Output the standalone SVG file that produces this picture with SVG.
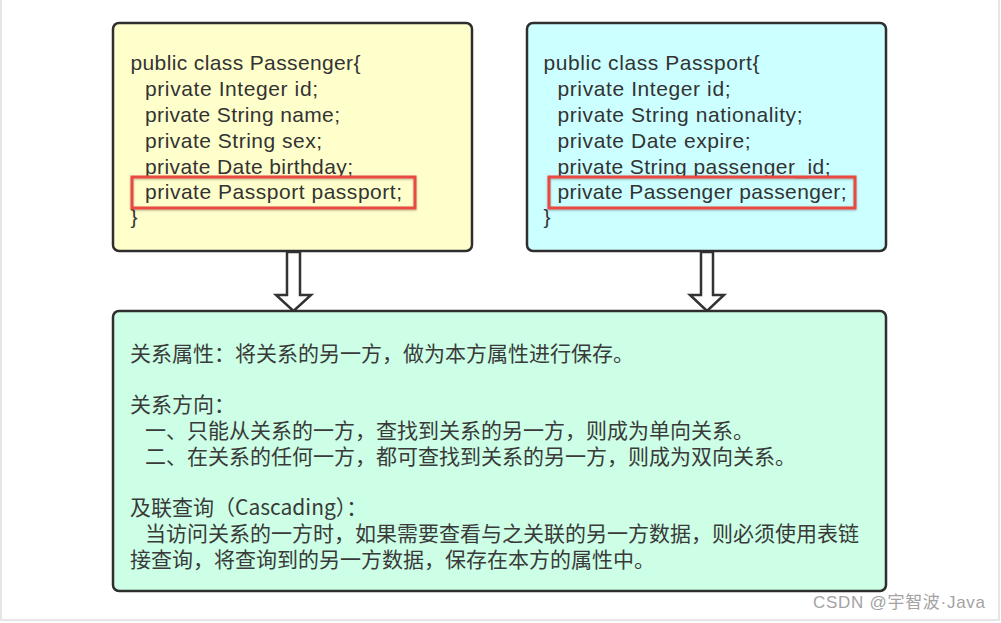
<svg xmlns="http://www.w3.org/2000/svg" width="1001" height="623" viewBox="0 0 1001 623">
<defs>
<style>
.box{stroke:#2e2e2e;stroke-width:2.5}
.code{font-family:"Liberation Sans",Arial,sans-serif;font-size:21px;fill:#333}
.cn{font-family:"Noto Sans CJK SC",sans-serif;font-size:21px;fill:#3a3a3a}
.hl{fill:none;stroke:#e8493f;stroke-width:3}
.arrow{fill:#fff;stroke:#333;stroke-width:2.5;stroke-linejoin:miter}
.wm{font-family:"Liberation Sans","Noto Sans CJK SC",sans-serif;font-size:17px;fill:#a3a3a3}
</style>
<filter id="sh" x="-5%" y="-30%" width="110%" height="160%">
<feDropShadow dx="0" dy="1" stdDeviation="1" flood-color="#000" flood-opacity="0.3"/>
</filter>
</defs>
<rect x="0" y="0" width="1001" height="623" fill="#fff"/>
<rect x="1" y="-2" width="998" height="622" fill="none" stroke="#dedede" stroke-width="1.5"/>

<g id="connectors">
<polygon class="arrow" points="287,252 287,295 276,295 293.5,311 311,295 300,295 300,252"/>
<polygon class="arrow" points="701,252 701,295 690,295 707,311 724,295 713,295 713,252"/>
</g>

<g id="passenger">
<rect class="box" x="113" y="23" width="359" height="228" rx="6" fill="#ffffcc"/>
<text class="code" x="130.5" y="70" textLength="230" lengthAdjust="spacing">public class Passenger{</text>
<text class="code" x="145" y="96" textLength="173" lengthAdjust="spacing">private Integer id;</text>
<text class="code" x="145" y="122" textLength="195" lengthAdjust="spacing">private String name;</text>
<text class="code" x="145" y="148" textLength="177" lengthAdjust="spacing">private String sex;</text>
<text class="code" x="145" y="174" textLength="208" lengthAdjust="spacing">private Date birthday;</text>
<text class="code" x="145" y="199" textLength="257" lengthAdjust="spacing">private Passport passport;</text>
<text class="code" x="130.5" y="224">}</text>
<rect class="hl" x="132" y="177" width="283" height="31" filter="url(#sh)"/>
</g>

<g id="passport">
<rect class="box" x="527" y="23" width="359" height="228" rx="6" fill="#ccffff"/>
<text class="code" x="543.5" y="70" textLength="216" lengthAdjust="spacing">public class Passport{</text>
<text class="code" x="557.5" y="96" textLength="173" lengthAdjust="spacing">private Integer id;</text>
<text class="code" x="557.5" y="122" textLength="245" lengthAdjust="spacing">private String nationality;</text>
<text class="code" x="557.5" y="148" textLength="193" lengthAdjust="spacing">private Date expire;</text>
<text class="code" x="557.5" y="174" textLength="273" lengthAdjust="spacing">private String passenger_id;</text>
<text class="code" x="557.5" y="199" textLength="289" lengthAdjust="spacing">private Passenger passenger;</text>
<text class="code" x="543.5" y="224">}</text>
<rect class="hl" x="549" y="177" width="306" height="31" filter="url(#sh)"/>
</g>

<g id="notes">
<rect class="box" x="113" y="311" width="773" height="280" rx="6" fill="#ccffe6"/>
<text class="cn" x="130" y="361">关系属性：将关系的另一方，做为本方属性进行保存。</text>
<text class="cn" x="130" y="412">关系方向：</text>
<text class="cn" x="145" y="438">一、只能从关系的一方，查找到关系的另一方，则成为单向关系。</text>
<text class="cn" x="145" y="464">二、在关系的任何一方，都可查找到关系的另一方，则成为双向关系。</text>
<text class="cn" x="130" y="515">及联查询（Cascading）：</text>
<text class="cn" x="145" y="541">当访问关系的一方时，如果需要查看与之关联的另一方数据，则必须使用表链</text>
<text class="cn" x="130" y="567">接查询，将查询到的另一方数据，保存在本方的属性中。</text>
</g>

<text class="wm" x="813" y="608" textLength="172" lengthAdjust="spacing">CSDN @宇智波·Java</text>
</svg>
